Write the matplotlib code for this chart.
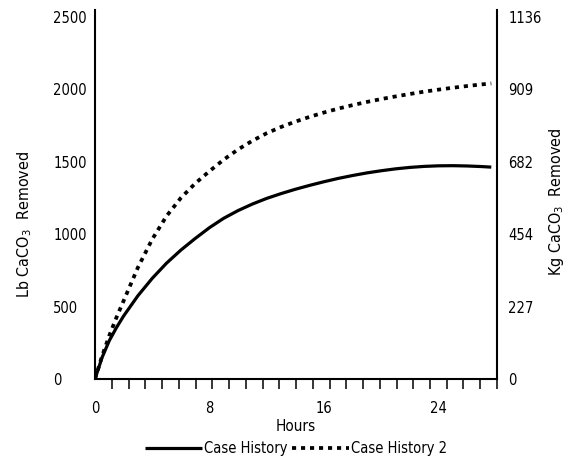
import numpy as np
import matplotlib
matplotlib.use('Agg')
import matplotlib.pyplot as plt

plt.rcParams['font.family'] = ['DejaVu Sans']
plt.rcParams['font.stretch'] = 'condensed'

# data
hours = [0, 0.5, 1, 1.5, 2, 3, 4, 5, 6, 7, 8, 9, 10, 11, 12, 13, 14, 15, 16, 17,
         18, 19, 20, 21, 22, 23, 24, 25, 26, 27, 27.7]
case_history = [0, 150, 265, 355, 435, 575, 695, 800, 890, 970, 1045, 1110, 1163, 1208, 1247, 1280, 1310,
                1337, 1362, 1385, 1405, 1423, 1438, 1451, 1461, 1468, 1472, 1473, 1471, 1467, 1463]
case_history_2 = [0, 160, 300, 425, 540, 770, 965, 1125, 1250, 1350, 1435, 1515, 1585, 1645, 1697, 1740, 1777,
                  1810, 1840, 1867, 1891, 1913, 1933, 1951, 1968, 1984, 1998, 2011, 2023, 2034, 2041]

lb_ticks = [0, 500, 1000, 1500, 2000, 2500]
kg_labels = ['0', '227', '454', '682', '909', '1136']
hour_ticks = [0, 8, 16, 24]

xmax = 28.1
ymax = 2548

fig = plt.figure(figsize=(5.69, 4.59), dpi=100)
ax = fig.add_axes([95/569, 1 - 379/459, (497 - 95)/569, (379 - 10)/459])

ax.plot(hours, case_history, color='black', lw=2.3, solid_capstyle='butt', label='Case History')
ax.plot(hours, case_history_2, color='black', lw=2.7, linestyle=(0, (1.1, 1.3)),
        dash_capstyle='butt', label='Case History 2')

ax.set_xlim(0, xmax)
ax.set_ylim(0, ymax)

for s in ['left', 'right', 'bottom']:
    ax.spines[s].set_linewidth(1.5)
ax.spines['top'].set_visible(False)

# x axis: labelled hours plus evenly spaced tick marks
ax.set_xticks(hour_ticks)
ax.set_xticklabels([str(h) for h in hour_ticks], fontsize=10.5)
ax.set_xticks(np.linspace(0, xmax, 25), minor=True)
ax.tick_params(axis='x', which='major', length=0, pad=16)
ax.tick_params(axis='x', which='minor', length=7, width=1.1, direction='out')
ax.set_xlabel('Hours', fontsize=11, labelpad=2)

# left y axis
ax.set_yticks(lb_ticks)
ax.set_yticklabels([str(v) for v in lb_ticks], fontsize=10.5)
ax.tick_params(axis='y', length=0, pad=30)
for lbl in ax.get_yticklabels():
    lbl.set_ha('left')
ax.set_ylabel('Lb CaCO$_3$  Removed', fontsize=11.5)
ax.yaxis.set_label_coords(-0.152, 0.42)

# right y axis in kg
ax2 = ax.twinx()
ax2.set_ylim(0, ymax)
ax2.set_yticks(lb_ticks)
ax2.set_yticklabels(kg_labels, fontsize=10.5)
ax2.tick_params(axis='y', length=0, pad=8)
for s in ['left', 'right', 'bottom', 'top']:
    ax2.spines[s].set_visible(False)
ax2.set_ylabel('Kg CaCO$_3$  Removed', fontsize=11.5)
ax2.yaxis.set_label_coords(1.124, 0.48)

fig.legend(loc='center', bbox_to_anchor=(296/569, 1 - 449/459), ncol=2, frameon=False,
           fontsize=10.5, handlelength=3.9, handletextpad=0.1, columnspacing=0.35,
           borderaxespad=0, borderpad=0)

fig.savefig('out.png', dpi=100)
